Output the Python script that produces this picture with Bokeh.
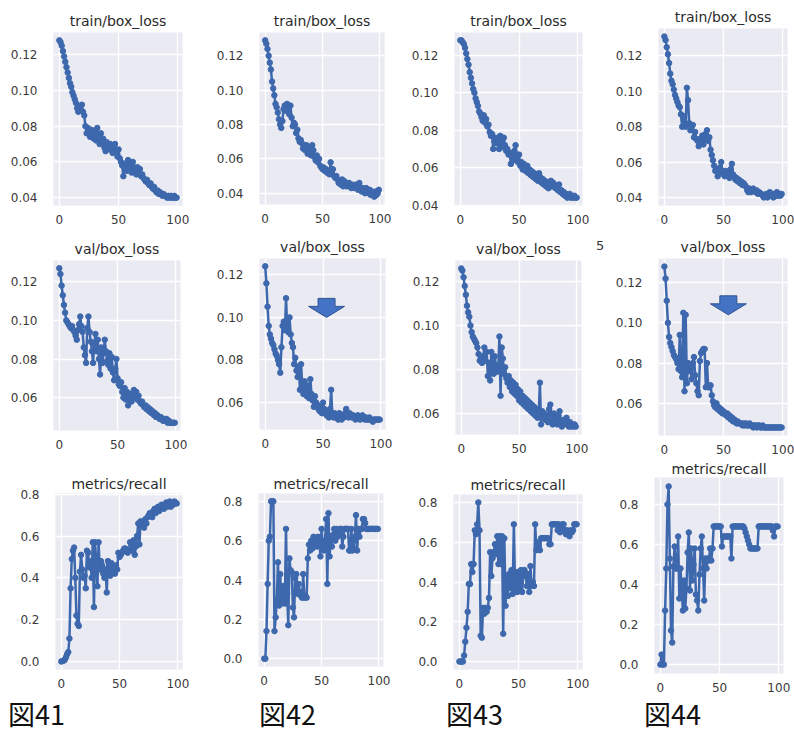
from bokeh.plotting import figure
from bokeh.layouts import column, row
from bokeh.models import Range1d, FixedTicker, NumeralTickFormatter, Div, Spacer
from bokeh.embed import file_html
from bokeh.resources import INLINE

# ---------------- data ----------------
epochs = list(range(100))

train_41 = [0.128, 0.127, 0.125, 0.122, 0.119, 0.116, 0.113, 0.110, 0.107, 0.104,
            0.102, 0.099, 0.097, 0.095, 0.093, 0.090, 0.088, 0.091, 0.089, 0.092,
            0.088, 0.086, 0.080, 0.076, 0.079, 0.077, 0.074, 0.078, 0.075, 0.073,
            0.077, 0.072, 0.079, 0.074, 0.070, 0.076, 0.071, 0.073, 0.068, 0.066,
            0.071, 0.069, 0.067, 0.070, 0.068, 0.065, 0.069, 0.070, 0.066, 0.063,
            0.067, 0.062, 0.060, 0.058, 0.052, 0.059, 0.057, 0.055, 0.061, 0.056,
            0.058, 0.054, 0.060, 0.057, 0.055, 0.053, 0.057, 0.054, 0.056, 0.052,
            0.053, 0.051, 0.050, 0.049, 0.050, 0.048, 0.047, 0.048, 0.046, 0.045,
            0.046, 0.044, 0.043, 0.044, 0.042, 0.043, 0.042, 0.041, 0.042, 0.041,
            0.041, 0.040, 0.041, 0.040, 0.041, 0.040, 0.040, 0.041, 0.040, 0.040]

train_42 = [0.129, 0.127, 0.124, 0.120, 0.116, 0.112, 0.105, 0.101, 0.097, 0.092,
            0.090, 0.087, 0.083, 0.080, 0.078, 0.082, 0.089, 0.091, 0.088, 0.092,
            0.089, 0.086, 0.091, 0.084, 0.079, 0.081, 0.080, 0.075, 0.077, 0.072,
            0.070, 0.071, 0.069, 0.066, 0.068, 0.065, 0.068, 0.063, 0.067, 0.064,
            0.062, 0.068, 0.065, 0.061, 0.059, 0.062, 0.058, 0.060, 0.056, 0.055,
            0.054, 0.055, 0.053, 0.054, 0.052, 0.053, 0.051, 0.058, 0.052, 0.054,
            0.050, 0.049, 0.050, 0.048, 0.046, 0.047, 0.045, 0.048, 0.044, 0.047,
            0.046, 0.044, 0.045, 0.046, 0.044, 0.043, 0.045, 0.044, 0.043, 0.045,
            0.044, 0.042, 0.046, 0.043, 0.041, 0.043, 0.042, 0.040, 0.043, 0.041,
            0.040, 0.042, 0.039, 0.041, 0.040, 0.038, 0.041, 0.039, 0.040, 0.042]

train_43 = [0.128, 0.128, 0.127, 0.126, 0.124, 0.121, 0.118, 0.115, 0.111, 0.108,
            0.105, 0.102, 0.100, 0.097, 0.095, 0.093, 0.090, 0.089, 0.087, 0.085,
            0.088, 0.084, 0.086, 0.082, 0.083, 0.079, 0.077, 0.078, 0.070, 0.074,
            0.076, 0.073, 0.075, 0.070, 0.077, 0.074, 0.071, 0.076, 0.072, 0.069,
            0.070, 0.067, 0.068, 0.062, 0.066, 0.064, 0.069, 0.072, 0.065, 0.063,
            0.067, 0.061, 0.063, 0.059, 0.062, 0.060, 0.058, 0.061, 0.057, 0.059,
            0.056, 0.058, 0.055, 0.057, 0.054, 0.056, 0.053, 0.057, 0.055, 0.052,
            0.054, 0.051, 0.053, 0.050, 0.052, 0.049, 0.051, 0.053, 0.050, 0.052,
            0.051, 0.049, 0.050, 0.048, 0.051, 0.047, 0.048, 0.046, 0.047, 0.045,
            0.046, 0.044, 0.045, 0.046, 0.044, 0.045, 0.044, 0.045, 0.044, 0.044]

train_44 = [0.131, 0.129, 0.125, 0.121, 0.116, 0.110, 0.106, 0.104, 0.101, 0.098,
            0.096, 0.094, 0.092, 0.091, 0.087, 0.080, 0.086, 0.082, 0.080, 0.102,
            0.095, 0.082, 0.078, 0.080, 0.081, 0.074, 0.077, 0.073, 0.072, 0.069,
            0.073, 0.071, 0.075, 0.070, 0.073, 0.076, 0.078, 0.072, 0.074, 0.067,
            0.064, 0.061, 0.058, 0.055, 0.056, 0.052, 0.054, 0.057, 0.060, 0.055,
            0.053, 0.052, 0.055, 0.053, 0.054, 0.051, 0.056, 0.059, 0.053, 0.052,
            0.050, 0.051, 0.049, 0.050, 0.048, 0.049, 0.047, 0.048, 0.047, 0.046,
            0.044, 0.043, 0.045, 0.043, 0.044, 0.045, 0.044, 0.043, 0.044, 0.042,
            0.043, 0.042, 0.042, 0.041, 0.040, 0.041, 0.042, 0.040, 0.041, 0.043,
            0.041, 0.042, 0.040, 0.042, 0.041, 0.043, 0.041, 0.042, 0.041, 0.042]

val_41 = [0.127, 0.124, 0.118, 0.113, 0.108, 0.104, 0.100, 0.099, 0.098, 0.097,
          0.096, 0.097, 0.095, 0.094, 0.092, 0.090, 0.095, 0.098, 0.102, 0.097,
          0.094, 0.086, 0.082, 0.078, 0.096, 0.102, 0.094, 0.089, 0.084, 0.078,
          0.088, 0.093, 0.084, 0.090, 0.080, 0.072, 0.086, 0.078, 0.083, 0.090,
          0.084, 0.079, 0.077, 0.083, 0.075, 0.081, 0.073, 0.069, 0.075, 0.080,
          0.070, 0.067, 0.066, 0.068, 0.063, 0.060, 0.065, 0.059, 0.063, 0.056,
          0.060, 0.062, 0.058, 0.061, 0.064, 0.060, 0.063, 0.059, 0.061, 0.058,
          0.057, 0.058, 0.056, 0.055, 0.056, 0.054, 0.055, 0.053, 0.054, 0.052,
          0.053, 0.051, 0.052, 0.050, 0.051, 0.050, 0.049, 0.050, 0.049, 0.048,
          0.049, 0.048, 0.049, 0.047, 0.048, 0.047, 0.047, 0.047, 0.047, 0.047]

val_42 = [0.124, 0.116, 0.105, 0.096, 0.092, 0.090, 0.088, 0.087, 0.085, 0.083,
          0.082, 0.080, 0.078, 0.074, 0.086, 0.096, 0.098, 0.094, 0.109, 0.095,
          0.093, 0.100, 0.092, 0.088, 0.086, 0.078, 0.081, 0.075, 0.072, 0.077,
          0.066, 0.078, 0.068, 0.064, 0.070, 0.067, 0.063, 0.068, 0.062, 0.071,
          0.064, 0.061, 0.058, 0.063, 0.060, 0.059, 0.057, 0.056, 0.058, 0.055,
          0.060, 0.057, 0.055, 0.054, 0.056, 0.053, 0.057, 0.066, 0.054, 0.053,
          0.055, 0.053, 0.054, 0.052, 0.055, 0.053, 0.052, 0.054, 0.053, 0.055,
          0.057, 0.054, 0.053, 0.055, 0.054, 0.053, 0.054, 0.053, 0.052, 0.053,
          0.054, 0.053, 0.052, 0.053, 0.054, 0.053, 0.052, 0.053, 0.052, 0.052,
          0.053, 0.052, 0.052, 0.051, 0.052, 0.052, 0.052, 0.052, 0.052, 0.052]

val_43 = [0.126, 0.125, 0.122, 0.118, 0.114, 0.109, 0.106, 0.104, 0.100, 0.097,
          0.095, 0.094, 0.093, 0.092, 0.090, 0.087, 0.084, 0.085, 0.083, 0.086,
          0.090, 0.084, 0.088, 0.077, 0.083, 0.075, 0.088, 0.081, 0.078, 0.086,
          0.082, 0.079, 0.080, 0.095, 0.068, 0.090, 0.085, 0.078, 0.081, 0.076,
          0.074, 0.077, 0.072, 0.075, 0.070, 0.074, 0.069, 0.073, 0.068, 0.071,
          0.066, 0.070, 0.065, 0.068, 0.064, 0.067, 0.063, 0.066, 0.062, 0.065,
          0.061, 0.064, 0.060, 0.063, 0.059, 0.062, 0.058, 0.060, 0.074, 0.055,
          0.061, 0.058, 0.060, 0.057, 0.059, 0.056, 0.062, 0.064, 0.057, 0.055,
          0.060, 0.056, 0.058, 0.055, 0.059, 0.061, 0.056, 0.054, 0.057, 0.055,
          0.056, 0.058, 0.055, 0.054, 0.056, 0.054, 0.055, 0.054, 0.055, 0.054]

val_44 = [0.128, 0.122, 0.111, 0.100, 0.093, 0.090, 0.088, 0.086, 0.084, 0.083,
          0.082, 0.080, 0.077, 0.094, 0.076, 0.073, 0.105, 0.066, 0.104, 0.070,
          0.080, 0.076, 0.079, 0.072, 0.080, 0.083, 0.074, 0.070, 0.066, 0.064,
          0.081, 0.085, 0.086, 0.087, 0.087, 0.068, 0.080, 0.068, 0.068, 0.069,
          0.064, 0.061, 0.059, 0.058, 0.060, 0.057, 0.058, 0.056, 0.057, 0.055,
          0.056, 0.055, 0.054, 0.055, 0.053, 0.054, 0.052, 0.053, 0.051, 0.052,
          0.051, 0.050, 0.051, 0.050, 0.050, 0.050, 0.049, 0.050, 0.049, 0.050,
          0.049, 0.049, 0.050, 0.049, 0.049, 0.048, 0.049, 0.049, 0.048, 0.049,
          0.049, 0.048, 0.048, 0.049, 0.048, 0.048, 0.048, 0.048, 0.048, 0.048,
          0.048, 0.048, 0.048, 0.048, 0.048, 0.048, 0.048, 0.048, 0.048, 0.048]

recall_41 = [0.000, 0.002, 0.004, 0.008, 0.020, 0.035, 0.045, 0.110, 0.350, 0.490,
             0.530, 0.545, 0.400, 0.220, 0.180, 0.170, 0.430, 0.510, 0.440, 0.400,
             0.410, 0.350, 0.530, 0.520, 0.450, 0.480, 0.400, 0.570, 0.260, 0.570,
             0.470, 0.360, 0.570, 0.440, 0.480, 0.460, 0.420, 0.400, 0.440, 0.330,
             0.480, 0.460, 0.410, 0.470, 0.430, 0.450, 0.420, 0.460, 0.440, 0.520,
             0.500, 0.510, 0.520, 0.530, 0.540, 0.540, 0.530, 0.520, 0.530, 0.570,
             0.560, 0.530, 0.580, 0.510, 0.550, 0.600, 0.660, 0.560, 0.670, 0.650,
             0.660, 0.640, 0.680, 0.660, 0.690, 0.700, 0.710, 0.700, 0.690, 0.720,
             0.730, 0.710, 0.720, 0.740, 0.720, 0.730, 0.750, 0.740, 0.730, 0.750,
             0.760, 0.740, 0.750, 0.765, 0.740, 0.760, 0.750, 0.765, 0.760, 0.755]

recall_42 = [0.000, 0.000, 0.140, 0.380, 0.600, 0.620, 0.800, 0.800, 0.800, 0.140,
             0.210, 0.300, 0.490, 0.270, 0.430, 0.280, 0.300, 0.370, 0.280, 0.660,
             0.330, 0.170, 0.510, 0.450, 0.440, 0.260, 0.210, 0.410, 0.430, 0.330,
             0.380, 0.340, 0.320, 0.310, 0.430, 0.310, 0.320, 0.310, 0.510, 0.580,
             0.550, 0.600, 0.560, 0.620, 0.580, 0.600, 0.570, 0.620, 0.610, 0.520,
             0.660, 0.580, 0.550, 0.600, 0.710, 0.380, 0.740, 0.520, 0.620, 0.570,
             0.630, 0.660, 0.600, 0.660, 0.620, 0.640, 0.660, 0.660, 0.570, 0.620,
             0.660, 0.660, 0.660, 0.660, 0.550, 0.550, 0.660, 0.550, 0.560, 0.620,
             0.730, 0.550, 0.660, 0.620, 0.660, 0.660, 0.710, 0.710, 0.690, 0.660,
             0.660, 0.660, 0.660, 0.660, 0.660, 0.660, 0.660, 0.660, 0.660, 0.660]

recall_43 = [0.000, 0.000, 0.000, 0.000, 0.030, 0.100, 0.170, 0.250, 0.390, 0.390,
             0.490, 0.450, 0.490, 0.660, 0.640, 0.690, 0.800, 0.660, 0.130, 0.120,
             0.270, 0.240, 0.270, 0.250, 0.270, 0.320, 0.550, 0.430, 0.520, 0.550,
             0.590, 0.540, 0.630, 0.490, 0.630, 0.490, 0.630, 0.140, 0.620, 0.280,
             0.420, 0.330, 0.440, 0.370, 0.460, 0.340, 0.690, 0.370, 0.450, 0.350,
             0.430, 0.370, 0.460, 0.350, 0.440, 0.460, 0.430, 0.380, 0.440, 0.350,
             0.480, 0.380, 0.400, 0.380, 0.690, 0.560, 0.600, 0.580, 0.560, 0.620,
             0.620, 0.620, 0.620, 0.620, 0.620, 0.620, 0.590, 0.590, 0.690, 0.690,
             0.690, 0.690, 0.690, 0.660, 0.690, 0.650, 0.660, 0.690, 0.690, 0.660,
             0.640, 0.660, 0.640, 0.630, 0.660, 0.650, 0.660, 0.690, 0.690, 0.690]

recall_44 = [0.000, 0.050, 0.000, 0.000, 0.270, 0.480, 0.800, 0.890, 0.530, 0.170,
             0.110, 0.490, 0.590, 0.480, 0.480, 0.640, 0.330, 0.480, 0.380, 0.270,
             0.420, 0.280, 0.380, 0.560, 0.660, 0.370, 0.580, 0.420, 0.500, 0.580,
             0.350, 0.320, 0.270, 0.450, 0.580, 0.640, 0.480, 0.320, 0.530, 0.480,
             0.530, 0.520, 0.580, 0.520, 0.580, 0.690, 0.690, 0.690, 0.690, 0.690,
             0.690, 0.690, 0.590, 0.640, 0.640, 0.640, 0.640, 0.640, 0.640, 0.640,
             0.530, 0.690, 0.690, 0.690, 0.690, 0.690, 0.690, 0.690, 0.690, 0.690,
             0.690, 0.680, 0.660, 0.640, 0.620, 0.600, 0.580, 0.580, 0.580, 0.580,
             0.580, 0.580, 0.580, 0.690, 0.690, 0.690, 0.690, 0.690, 0.690, 0.690,
             0.690, 0.690, 0.690, 0.690, 0.690, 0.670, 0.640, 0.690, 0.690, 0.690]

x_ticks = [0, 50, 100]
loss_ticks = [0.04, 0.06, 0.08, 0.10, 0.12]
recall_ticks = [0.0, 0.2, 0.4, 0.6, 0.8]
titles = ["train/box_loss", "val/box_loss", "metrics/recall"]
fig_labels = ["図41", "図42", "図43", "図44"]
arrow_tips = {5: (53.0, 0.100), 7: (54.0, 0.104)}   # panel index -> (epoch, value)
stray_text = "5"

# ---------------- style / layout ----------------
BLUE = "#3d68ad"
BG = "#EAEAF2"
FONT = "DejaVu Sans"

series = [train_41, train_42, train_43, train_44,
          val_41, val_42, val_43, val_44,
          recall_41, recall_42, recall_43, recall_44]

# (spacer_above, frame_w, frame_h, border_left, border_right, border_top, border_bottom, title_standoff)
geom = [
    (7, 129, 173, 53, 31, 25, 22, 7), (7, 125, 172, 45, 24, 25, 22, 7),
    (7, 128, 173, 43, 30, 25, 22, 7), (3, 129, 177, 44, 11, 25, 22, 7),
    (8, 127, 170, 53, 33, 25, 22, 7), (6, 126, 171, 44, 24, 25, 22, 7),
    (8, 126, 174, 44, 12, 25, 22, 7), (6, 129, 177, 45, 10, 25, 22, 7),
    (14, 127, 176, 55, 31, 21, 22, 4), (14, 125, 173, 45, 24, 21, 22, 4),
    (15, 129, 175, 46, 26, 21, 22, 4), (1, 129, 196, 46, 9, 18, 22, 1),
]
label_cols = [(213, 8), (194, 46), (201, 39), (184, 36)]  # (div width, left pad)


def make_panel(i):
    vals = series[i]
    dy, fw, fh, bl, br, bt, bb, ts = geom[i]
    lo, hi = min(vals), max(vals)
    pad = 0.05 * (hi - lo)
    rec = i >= 8
    p = figure(frame_width=fw, frame_height=fh,
               min_border_left=bl, min_border_right=br,
               min_border_top=bt, min_border_bottom=bb,
               x_range=Range1d(-4.95, 103.95), y_range=Range1d(lo - pad, hi + pad),
               title=titles[i // 4], output_backend="svg", toolbar_location=None)
    p.background_fill_color = BG
    p.border_fill_color = "white"
    p.outline_line_color = None
    p.title.align = "center"
    p.title.text_font = FONT
    p.title.text_font_size = "14px"
    p.title.text_font_style = "normal"
    p.title.text_color = "#2a2a2a"
    p.title.standoff = ts
    p.xaxis.ticker = FixedTicker(ticks=x_ticks)
    p.yaxis.ticker = FixedTicker(ticks=recall_ticks if rec else loss_ticks)
    p.yaxis.formatter = NumeralTickFormatter(format="0.0" if rec else "0.00")
    for ax in p.xaxis + p.yaxis:
        ax.axis_line_color = None
        ax.major_tick_line_color = None
        ax.minor_tick_line_color = None
        ax.major_label_text_font = FONT
        ax.major_label_text_font_size = "12px"
        ax.major_label_text_color = "#3a3a3a"
    p.xaxis.major_label_standoff = 3
    p.yaxis.major_label_standoff = 10
    p.xgrid.grid_line_color = "white"
    p.ygrid.grid_line_color = "white"
    p.xgrid.grid_line_width = 1.3
    p.ygrid.grid_line_width = 1.3
    p.line(epochs, vals, line_width=2.5, line_color=BLUE)
    p.scatter(epochs, vals, size=5.5, fill_color=BLUE, line_color=BLUE)
    if i in arrow_tips:
        sx = (p.x_range.end - p.x_range.start) / fw
        sy = (p.y_range.end - p.y_range.start) / fh
        tx, ty = arrow_tips[i]
        shape = [(0, 0), (18, 11), (8.5, 11), (8.5, 19), (-8.5, 19), (-8.5, 11), (-18, 11)]
        p.patch([tx + dx * sx for dx, dy_ in shape], [ty + dy_ * sy for dx, dy_ in shape],
                fill_color="#4472C4", line_color="#2F528F", line_width=1)
    total_w = bl + fw + br
    return column(Spacer(width=total_w, height=dy, margin=0), p, spacing=0)


cells = [make_panel(i) for i in range(12)]

# stray character seen between the 2nd-row panels of the source image
stray = column(Spacer(width=19, height=11, margin=0),
               Div(text=f'<div style="margin-left:3px;">{stray_text}</div>',
                   width=19, height=16, margin=0,
                   styles={"font-size": "13px", "line-height": "15px",
                           "font-family": FONT, "color": "#333333"}),
               spacing=0)

labels = []
for lbl, (w, lp) in zip(fig_labels, label_cols):
    labels.append(Div(text=f'<div style="margin-left:{lp}px;">{lbl}</div>',
                      width=w, height=40, margin=0,
                      styles={"font-size": "27px",
                              "font-family": "Noto Sans CJK JP", "color": "#111111"}))

layout = column(row(*cells[0:4], spacing=0),
                row(cells[4], cells[5], cells[6], stray, cells[7], spacing=0),
                row(*cells[8:12], spacing=0), row(*labels, spacing=0), spacing=0)

open("out.html", "w").write(file_html(layout, INLINE))
